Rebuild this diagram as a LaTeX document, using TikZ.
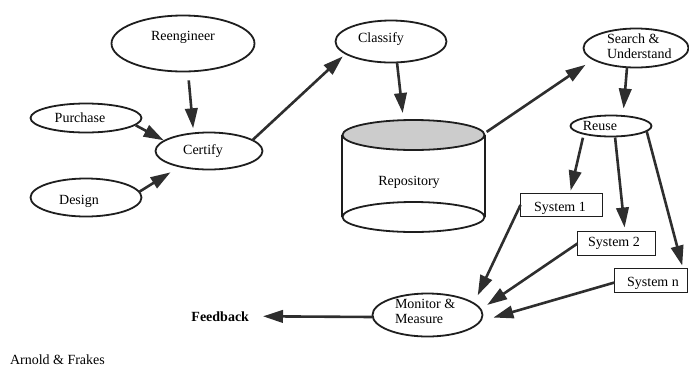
\documentclass[tikz,border=0pt]{standalone}
\usepackage{fontspec}
\setmainfont{Liberation Serif}
\usetikzlibrary{shapes.geometric,arrows.meta}
\definecolor{ink}{HTML}{1E1E1E}
\definecolor{arrowink}{HTML}{2E2E2E}
\begin{document}
\begin{tikzpicture}[x=1pt,y=-1pt,
  every node/.style={inner sep=0pt, outer sep=0pt},
  oval/.style={ellipse, draw=ink, line width=1.8pt},
  sysbox/.style={rectangle, draw=ink, line width=1.8pt},
  cyl/.style={draw=ink, line width=1.8pt},
  lbl/.style={font=\fontsize{14}{15}\selectfont, text=black, anchor=base},
  flow/.style={draw=arrowink, line width=2.6pt, -{Triangle[length=20pt,width=12.5pt]}},
]
\useasboundingbox (0,0) rectangle (689,368);

% process ovals
\node[oval, minimum width=143pt, minimum height=56pt] (reeng) at (183,43.5) {};
\node[oval, minimum width=111pt, minimum height=29pt] (purch) at (86,118) {};
\node[oval, minimum width=107pt, minimum height=37pt] (certify) at (209,151) {};
\node[oval, minimum width=111pt, minimum height=38pt] (design) at (86,197.5) {};
\node[oval, minimum width=111pt, minimum height=42pt] (classify) at (391,41.5) {};
\node[oval, minimum width=105pt, minimum height=39pt] (search) at (636,48) {};
\node[oval, minimum width=81pt, minimum height=21pt] (reuse) at (611,126) {};
\node[oval, minimum width=110pt, minimum height=43pt] (monitor) at (427.5,315) {};

% target systems
\node[sysbox, minimum width=82pt, minimum height=23pt] (sys1) at (561.5,205) {};
\node[sysbox, minimum width=78pt, minimum height=24pt] (sys2) at (616.5,243.5) {};
\node[sysbox, minimum width=73pt, minimum height=24pt] (sysn) at (651,280.5) {};

% repository cylinder
\node[minimum width=143pt, minimum height=112pt] (repo) at (413.5,176) {};
\draw[cyl] ([yshift=-15pt]repo.north west) -- ([yshift=15pt]repo.south west);
\draw[cyl] ([yshift=-15pt]repo.north east) -- ([yshift=15pt]repo.south east);
\draw[cyl, fill=black!20] ([yshift=-15pt]repo.north) ellipse [x radius=71pt, y radius=15pt];
\draw[cyl] ([yshift=15pt]repo.south) ellipse [x radius=71pt, y radius=15pt];

% labels
\node[lbl] (reengT) at (183,40.7) {Reengineer};
\node[lbl] (purchT) at (80,122) {Purchase};
\node[lbl] (certT) at (203,154) {Certify};
\node[lbl] (desT) at (79,204.5) {Design};
\node[lbl] (classT) at (381,42.7) {Classify};
\node[lbl, anchor=base west] (searchA) at (607,43) {Search \&};
\node[lbl, anchor=base west] (searchB) at (607,58) {Understand};
\node[lbl] (reuseT) at (600,130) {Reuse};
\node[lbl] (repoT) at (409,185) {Repository};
\node[lbl] (sys1T) at (560,211.7) {System 1};
\node[lbl] (sys2T) at (614,246.7) {System 2};
\node[lbl] (sysnT) at (653,286) {System n};
\node[lbl, anchor=base west] (monA) at (395,308) {Monitor \&};
\node[lbl, anchor=base west] (monB) at (395,323) {Measure};
\node[lbl, anchor=base east, font=\fontsize{14}{15}\selectfont\bfseries] (feedback) at (249,321) {Feedback};
\node[lbl, anchor=base west] (credit) at (10,364.5) {Arnold \& Frakes};

% flow
\draw[flow, shorten <=9pt, shorten >=5pt] (reeng.-80) -- (certify.131);
\draw[flow, shorten <=1pt, shorten >=1pt] (purch.-8) -- (certify.167);
\draw[flow, shorten >=11pt] (design.6) -- (certify.-152);
\draw[flow, shorten >=4pt] (certify.14) -- (classify.-165);
\draw[flow, shorten >=7pt] (classify.-74) -- ([xshift=-10pt]repo.north);
\draw[flow, shorten <=2pt, shorten >=9.6pt] ([yshift=-13pt]repo.north east) -- (search.-165);
\draw[flow, shorten >=7pt] (search.-115) -- ([xshift=12pt]reuse.north);
\draw[flow, shorten <=4pt, shorten >=3pt] (reuse.-164) -- ([xshift=8.5pt]sys1.north);
\draw[flow, shorten <=1pt, shorten >=4pt] ([xshift=4pt]reuse.south) -- ([xshift=8.5pt]sys2.north);
\draw[flow, shorten >=3pt] (reuse.-8) -- ([xshift=32pt]sysn.north);
\draw[flow, shorten >=9pt] (sys1.west) -- (monitor.14);
\draw[flow, shorten >=8pt] (sys2.west) -- (monitor.6);
\draw[flow, shorten >=14pt] ([yshift=-2pt]sysn.west) -- (monitor.-7);
\draw[flow, shorten >=14pt] ([yshift=-2pt]monitor.west) -- (feedback.east);
\end{tikzpicture}
\end{document}
